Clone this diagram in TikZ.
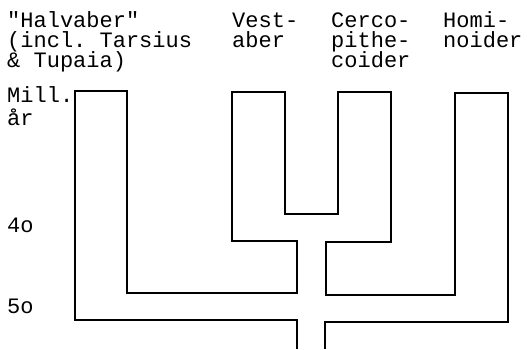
\documentclass[tikz,border=0pt]{standalone}
\usepackage{fontspec}
\setmonofont{Liberation Mono}
\begin{document}
\begin{tikzpicture}[x=1pt,y=-1pt,
  lbl/.style={anchor=base west,inner sep=0pt,font=\ttfamily\fontsize{22}{20}\selectfont},
  outline/.style={line width=1.3pt,line join=miter}]
\useasboundingbox (0,0) rectangle (527,349);
% headings
\node[lbl] (h1) at (7,27) {"Halvaber"};
\node[lbl] (h2) at (7,47) {(incl. Tarsius};
\node[lbl] (h3) at (7,67) {\& Tupaia)};
\node[lbl] (v1) at (232,27) {Vest-};
\node[lbl] (v2) at (232,47) {aber};
\node[lbl] (c1) at (331,27) {Cerco-};
\node[lbl] (c2) at (331,47) {pithe-};
\node[lbl] (c3) at (331,67) {coider};
\node[lbl] (o1) at (443,27) {Homi-};
\node[lbl] (o2) at (443,47) {noider};
% axis
\node[lbl] (m1) at (7,102) {Mill.};
\node[lbl] (m2) at (7,125) {år};
\node[lbl] (t4) at (7,232) {4o};
\node[lbl] (t5) at (7,313) {5o};
% tree outline
\draw[outline] (297,349) -- (297,320) -- (75,320) -- (75,91) -- (127,91) -- (127,293)
  -- (297,293) -- (297,241) -- (232,241) -- (232,92) -- (285,92) -- (285,214)
  -- (338,214) -- (338,92) -- (391,92) -- (391,242) -- (326,242) -- (326,295)
  -- (455,295) -- (455,93) -- (508,93) -- (508,322) -- (325,322) -- (325,349);
\end{tikzpicture}
\end{document}
